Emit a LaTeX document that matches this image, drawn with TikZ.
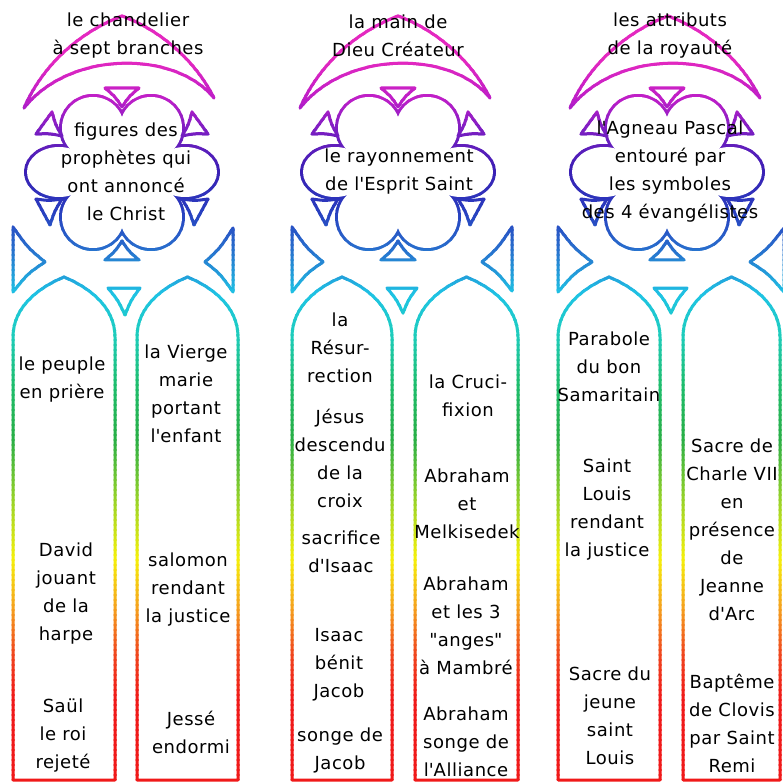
\documentclass[tikz,border=0pt]{standalone}
\usepackage{fontspec}
\setmainfont{DejaVu Sans}[LetterSpace=3]
\usetikzlibrary{calc}
\definecolor{k0}{RGB}{228,40,192}
\definecolor{k1}{RGB}{190,30,200}
\definecolor{k2}{RGB}{125,30,195}
\definecolor{k3}{RGB}{60,30,180}
\definecolor{k4}{RGB}{40,60,190}
\definecolor{k5}{RGB}{40,110,205}
\definecolor{k6}{RGB}{30,195,228}
\definecolor{k7}{RGB}{30,205,190}
\definecolor{k8}{RGB}{30,190,110}
\definecolor{k9}{RGB}{40,175,70}
\definecolor{k10}{RGB}{150,210,40}
\definecolor{k11}{RGB}{245,240,10}
\definecolor{k12}{RGB}{245,160,30}
\definecolor{k13}{RGB}{240,70,30}
\definecolor{k14}{RGB}{240,25,25}
\newcommand\q{\textquotesingle}
\newcommand\dq{\textquotedbl}
% triangle: #2 inner vertex, edges #1-#2 and #2-#3 slightly concave, #3-#1 straight
\newcommand\rtri[3]{\draw #1 .. controls ($#1!0.5!#2!0.07!#3$) .. #2 .. controls ($#2!0.5!#3!0.07!#1$) .. #3 -- cycle;}
\newcommand\lancet[2]{\pgfmathsetmacro\xm{(#1+#2)/2}%
  \draw (#1,780) -- (#1,337) .. controls (#1,306) and (\xm-24,287) .. (\xm,277) .. controls (\xm+24,287) and (#2,306) .. (#2,337) -- (#2,780) -- cycle;}
\newcommand\crescent[1]{\begin{scope}[shift={(#1,0)}]
  \draw (-98,108) .. controls (-77,60) and (-37,30) .. (0,16) .. controls (38,30) and (73,60) .. (92,98) .. controls (53,50) and (-52,50) .. (-98,108) -- cycle;
\end{scope}}
\newcommand\rose[1]{\begin{scope}[shift={(#1,172)}]
  \draw[line width=6pt] (-29,-44) circle (31) (29,-44) circle (31) (-29,45) circle (31) (29,45) circle (31)
     (-63,0) ellipse [x radius=32, y radius=25] (63,0) ellipse [x radius=32, y radius=25];
  \fill[white] (-29,-44) circle (31);
  \fill[white] (29,-44) circle (31);
  \fill[white] (-29,45) circle (31);
  \fill[white] (29,45) circle (31);
  \fill[white] (-63,0) ellipse [x radius=32, y radius=25];
  \fill[white] (63,0) ellipse [x radius=32, y radius=25];
  \fill[white] (-29,-44) -- (29,-44) -- (63,0) -- (29,45) -- (-29,45) -- (-63,0) -- cycle;
  \rtri{(-17,-84)}{(0,-65)}{(17,-84)}
  \rtri{(-70,-60)}{(-60,-36)}{(-86,-38)}
  \rtri{(70,-60)}{(60,-36)}{(86,-38)}
  \rtri{(-86,27)}{(-60,27)}{(-72,53)}
  \rtri{(86,27)}{(60,27)}{(72,53)}
  \rtri{(-17,88)}{(0,69)}{(17,88)}
\end{scope}}
\newcommand\glasstop{%
  \crescent{122}\crescent{398}\crescent{668}%
  \rose{122}\rose{398}\rose{667}%
  \rtri{(13,227)}{(45,262)}{(13,292)}
  \rtri{(233,228)}{(205,262)}{(233,292)}
  \rtri{(292,227)}{(323,262)}{(292,292)}
  \rtri{(512,227)}{(482,262)}{(512,291)}
  \rtri{(558,227)}{(592,262)}{(558,292)}
  \rtri{(784,228)}{(750,262)}{(784,292)}
  \rtri{(108,288)}{(125,315)}{(140,288)}
  \rtri{(387,288)}{(403,313)}{(417,288)}
  \rtri{(654,288)}{(671,313)}{(687,288)}
}
\newcommand\glasslancets{%
  \lancet{13}{115}\lancet{137}{238}%
  \lancet{292}{392}\lancet{415}{518}%
  \lancet{558}{660}\lancet{683}{780}%
}
\tikzset{lbl/.style={align=center, inner sep=0pt, text=black, font=\fontsize{18}{28}\selectfont}}
\begin{document}
\begin{tikzpicture}[x=1pt, y=-1pt, line width=3pt, line join=round, line cap=round]
\useasboundingbox[fill=white] (0,0) rectangle (782,783);
\foreach \ya/\yb/\ca/\cb in {0/60/k0/k0, 60/100/k0/k1, 100/130/k1/k2, 130/170/k2/k3, 170/210/k3/k4, 210/250/k4/k5, 250/295/k5/k6, 295/335/k6/k7, 335/385/k7/k8, 385/440/k8/k9, 440/500/k9/k10, 500/560/k10/k11, 560/610/k11/k12, 610/655/k12/k13, 655/700/k13/k14, 700/790/k14/k14}{
  \pgfmathtruncatemacro\nb{max(1,round((\yb-\ya)/5))}
  \foreach \k in {1,...,\nb}{
    \pgfmathsetmacro\ylo{\ya+(\k-1)*(\yb-\ya)/\nb-0.4}
    \pgfmathsetmacro\yhi{\ya+\k*(\yb-\ya)/\nb+0.4}
    \pgfmathsetmacro\pct{100*(\k-0.5)/\nb}
    \colorlet{bandc}{\cb!\pct!\ca}
    \begin{scope}[color=bandc]
      \clip (-10,\ylo) rectangle (800,\yhi);
      \ifdim\ylo pt<335pt \glasstop\fi
      \glasslancets
    \end{scope}
  }
}
\node[lbl] (t1) at (128,36) {le chandelier\\à sept branches};
\node[lbl] (t2) at (398,36) {la main de\\Dieu Créateur};
\node[lbl] (t3) at (670,36) {les attributs\\de la royauté};
\node[lbl] (r1) at (126,172) {figures des\\prophètes qui\\ont annoncé\\le Christ};
\node[lbl] (r2) at (399,172) {le rayonnement\\de l\q Esprit Saint};
\node[lbl] (r3) at (670,172) {l\q Agneau Pascal\\entouré par\\les symboles\\des 4 évangélistes};
\node[lbl] (a1) at (62,380) {le peuple\\en prière};
\node[lbl] (a2) at (66,594) {David\\jouant\\de la\\harpe};
\node[lbl] (a3) at (63,736) {Saül\\le roi\\rejeté};
\node[lbl] (b1) at (186,394) {la Vierge\\marie\\portant\\l\q enfant};
\node[lbl] (b2) at (188,590) {salomon\\rendant\\la justice};
\node[lbl] (b3) at (191,732) {Jessé\\endormi};
\node[lbl] (c1) at (340,348) {la\\Résur-\\rection};
\node[lbl] (c2) at (340,458) {Jésus\\descendu\\de la\\croix};
\node[lbl] (c3) at (341,552) {sacrifice\\d\q Isaac};
\node[lbl] (c4) at (339,665) {Isaac\\bénit\\Jacob};
\node[lbl] (c5) at (340,750) {songe de\\Jacob};
\node[lbl] (d1) at (468,396) {la Cruci-\\fixion};
\node[lbl] (d2) at (467,504) {Abraham\\et\\Melkisedek};
\node[lbl] (d3) at (466,626) {Abraham\\et les 3\\\dq anges\dq\\à Mambré};
\node[lbl] (d4) at (466,742) {Abraham\\songe de\\l\q Alliance};
\node[lbl] (e1) at (609,367) {Parabole\\du bon\\Samaritain};
\node[lbl] (e2) at (607,510) {Saint\\Louis\\rendant\\la justice};
\node[lbl] (e3) at (610,716) {Sacre du\\jeune\\saint\\Louis};
\node[lbl] (f1) at (732,530) {Sacre de\\Charle VII\\en\\présence\\de\\Jeanne\\d\q Arc};
\node[lbl] (f2) at (732,723) {Baptême\\de Clovis\\par Saint\\Remi};
\end{tikzpicture}
\end{document}
